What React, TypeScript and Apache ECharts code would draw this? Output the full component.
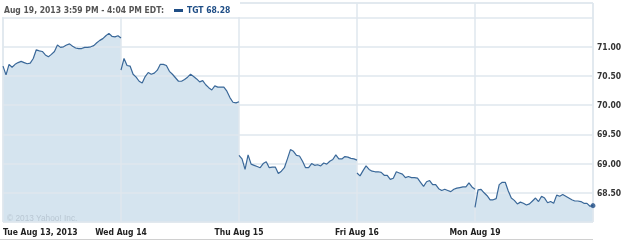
import React, { useEffect, useRef } from "react";
import * as echarts from "echarts";

const dayLabels = ["Tue Aug 13, 2013", "Wed Aug 14", "Thu Aug 15", "Fri Aug 16", "Mon Aug 19"];

// TGT price, 10-minute samples (9:30 .. 16:00) per trading day
const tue = [70.67, 70.52, 70.70, 70.65, 70.70, 70.73, 70.75, 70.73, 70.71, 70.72,
  70.80, 70.95, 70.93, 70.92, 70.86, 70.83, 70.87, 70.92, 71.03, 70.99,
  71.00, 71.03, 71.05, 71.01, 70.98, 70.97, 70.97, 70.99, 70.99, 71.00,
  71.02, 71.07, 71.11, 71.14, 71.19, 71.23, 71.18, 71.17, 71.19, 71.15];
const wed = [70.60, 70.80, 70.68, 70.67, 70.53, 70.48, 70.41, 70.38, 70.49, 70.56,
  70.53, 70.55, 70.60, 70.70, 70.70, 70.68, 70.58, 70.53, 70.47, 70.41,
  70.41, 70.44, 70.48, 70.53, 70.49, 70.45, 70.40, 70.42, 70.35, 70.30,
  70.26, 70.33, 70.31, 70.31, 70.31, 70.24, 70.13, 70.05, 70.04, 70.06];
const thu = [69.14, 69.08, 68.90, 69.15, 68.99, 68.97, 68.95, 68.93, 69.00, 69.03,
  68.93, 68.94, 68.94, 68.83, 68.87, 68.93, 69.08, 69.24, 69.21, 69.14,
  69.13, 69.04, 68.93, 68.93, 69.00, 68.97, 68.98, 68.96, 69.01, 68.99,
  69.04, 69.07, 69.15, 69.08, 69.08, 69.12, 69.11, 69.09, 69.08, 69.06];
const fri = [68.84, 68.79, 68.88, 68.96, 68.90, 68.87, 68.86, 68.86, 68.85, 68.80,
  68.80, 68.73, 68.75, 68.86, 68.84, 68.82, 68.76, 68.78, 68.76, 68.76,
  68.75, 68.68, 68.61, 68.69, 68.71, 68.64, 68.64, 68.57, 68.54, 68.56,
  68.54, 68.52, 68.56, 68.58, 68.59, 68.60, 68.60, 68.67, 68.60, 68.56];
const mon = [68.25, 68.55, 68.56, 68.50, 68.45, 68.38, 68.38, 68.40, 68.64, 68.68,
  68.68, 68.53, 68.41, 68.37, 68.31, 68.34, 68.32, 68.29, 68.31, 68.36,
  68.41, 68.35, 68.44, 68.41, 68.33, 68.35, 68.32, 68.46, 68.44, 68.47,
  68.44, 68.41, 68.38, 68.36, 68.36, 68.35, 68.32, 68.32, 68.27, 68.28];

const yMin = 68.0;
const yMax = 71.75;
const yStep = 0.5;

const FONT = '"DejaVu Sans Condensed", "DejaVu Sans", sans-serif';
const LINE = "#3a6899";
const FILL = "#d5e4ef";
const GRID = "#dfe7ee";

export default function App() {
  const ref = useRef<HTMLDivElement>(null);
  useEffect(() => {
    if (!ref.current) return;
    const chart = echarts.init(ref.current, undefined, { renderer: "svg" });
    const days = [tue, wed, thu, fri, mon];
    const toPts = (arr: number[], d: number) => arr.map((v, i) => [d + i / (arr.length - 1), v]);
    const areaSeries = days.map((arr, d) => ({
      type: "line",
      data: toPts(arr, d),
      symbol: "none",
      z: 1,
      lineStyle: { width: 0, opacity: 0 },
      areaStyle: { color: FILL, opacity: 1, origin: "start" },
      silent: true,
    }));
    const lineSeries = days.map((arr, d) => ({
      type: "line",
      data: toPts(arr, d),
      symbol: "none",
      z: 10,
      lineStyle: { width: 1.2, color: LINE },
      silent: true,
    }));
    const last = mon[mon.length - 1];
    const lastName = "TGT " + last.toFixed(2);
    chart.setOption({
      animation: false,
      grid: {
        left: 3, right: 32, top: 3, bottom: 19,
        show: true, borderColor: "#d6dee6", borderWidth: 1,
      },
      xAxis: {
        type: "value", min: 0, max: 5, interval: 1, z: 5,
        axisLine: { show: false }, axisTick: { show: false },
        splitLine: { show: true, lineStyle: { color: GRID, width: 1.5 } },
        axisLabel: {
          formatter: (v: number) => (v < 5 ? dayLabels[Math.round(v)] : ""),
          alignMinLabel: "left",
          margin: 5,
          color: "#222", fontWeight: "bold", fontSize: 8.5, fontFamily: FONT,
        },
      },
      yAxis: {
        type: "value", position: "right", min: yMin, max: yMax, interval: yStep, z: 5,
        axisLine: { show: false }, axisTick: { show: false },
        splitLine: { show: true, lineStyle: { color: GRID, width: 1.5 } },
        axisLabel: {
          formatter: (v: number) => (v <= yMin + 0.01 || v > 71.2 ? "" : v.toFixed(2)),
          margin: 4,
          color: "#333", fontWeight: "bold", fontSize: 8.5, fontFamily: FONT,
        },
      },
      series: [
        ...areaSeries,
        ...lineSeries,
        {
          type: "scatter", z: 11, silent: true,
          data: [[5, last]], symbolSize: 5,
          itemStyle: { color: "#1f4e86" },
        },
      ],
      graphic: [
        { type: "rect", shape: { x: 0, y: 0, width: 240, height: 17 }, style: { fill: "#fff" }, z: 20 },
        {
          type: "text", x: 4, y: 10, z: 21,
          style: {
            text: "Aug 19, 2013 3:59 PM - 4:04 PM EDT:", fill: "#555",
            font: `bold 8.5px ${FONT}`, verticalAlign: "middle",
          },
        },
        { type: "rect", shape: { x: 174, y: 9, width: 9, height: 3 }, style: { fill: "#1f4e86" }, z: 21 },
        {
          type: "text", x: 187, y: 10, z: 21,
          style: { text: lastName, fill: "#1f4e86", font: `bold 8.5px ${FONT}`, verticalAlign: "middle" },
        },
        {
          type: "text", x: 7, y: 218, z: 21,
          style: {
            text: "© 2013 Yahoo! Inc.", fill: "#b9c7d3",
            font: `8.3px "Liberation Sans", Arial, sans-serif`, verticalAlign: "middle",
          },
        },
        { type: "line", shape: { x1: 0, y1: 239.5, x2: 593, y2: 239.5 }, style: { stroke: "#d0d0d0", lineWidth: 1 }, z: 21 },
      ],
    });
    return () => chart.dispose();
  }, []);
  return <div ref={ref} style={{ position: "fixed", left: 0, top: 0, width: 625, height: 241 }} />;
}
